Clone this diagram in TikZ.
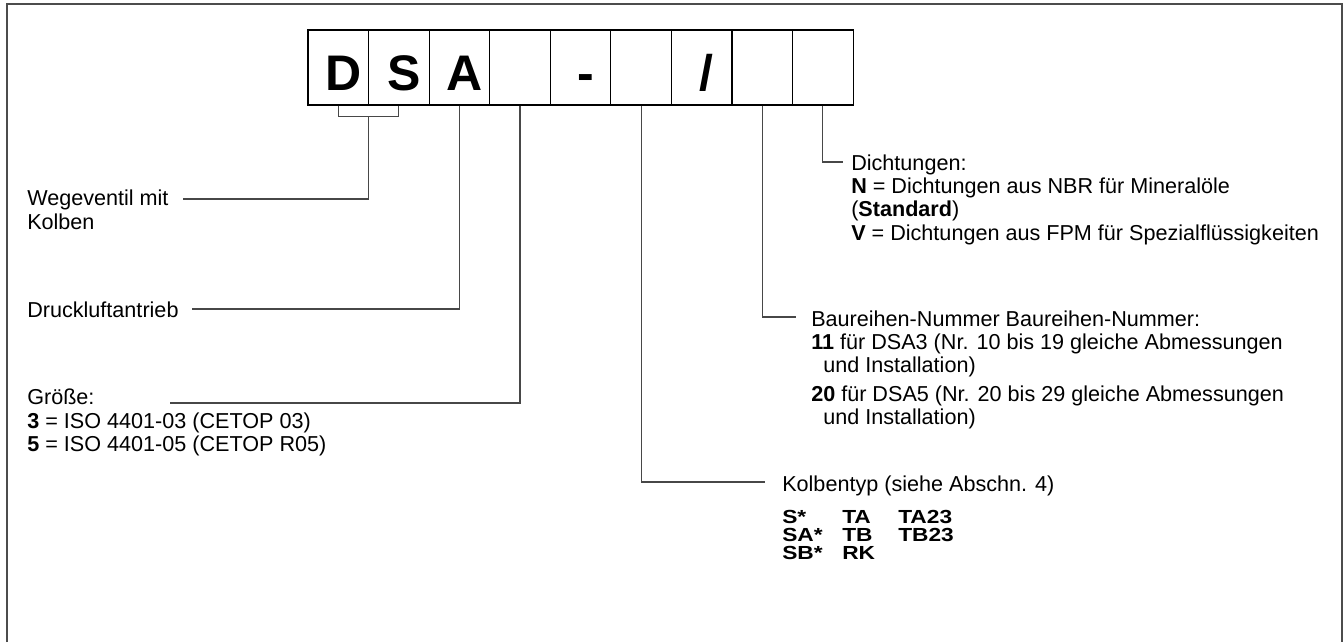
\documentclass[tikz,border=0pt]{standalone}
\usepackage{fontspec}
\usepackage{graphicx}
\setmainfont{Liberation Sans}
\usetikzlibrary{calc}
\begin{document}
\begin{tikzpicture}[x=0.75pt,y=-0.75pt,
  cell/.style={draw=black, line width=0.8pt, minimum width=45.42pt, minimum height=56.25pt, inner sep=0pt},
  big/.style={anchor=base, inner sep=0pt, font=\fontsize{37.5}{40}\selectfont\bfseries},
  conn/.style={draw=black!72, line width=0.85pt},
  lbl/.style={anchor=north west, inner sep=0pt, align=left, font=\fontsize{16.2}{17.5}\selectfont},
  lbl1/.style={anchor=base west, inner sep=0pt, font=\fontsize{16.2}{17.5}\selectfont},
  frame/.style={draw=black!70, line width=1.2pt}
]
\useasboundingbox (0,0) rectangle (1344,642);
\draw[frame] (7,642) -- (7,4) -- (1342,4) -- (1342,642);

% cells
\node[cell] (c1) at (338.3,67.5) {};
\node[cell] (c2) at (398.8,67.5) {};
\node[cell] (c3) at (459.4,67.5) {};
\node[cell] (c4) at (520.0,67.5) {};
\node[cell] (c5) at (580.5,67.5) {};
\node[cell] (c6) at (641.1,67.5) {};
\node[cell] (c7) at (701.7,67.5) {};
\node[cell] (c8) at (762.2,67.5) {};
\node[cell] (c9) at (822.8,67.5) {};

\node[big] (tD) at (343.3,90.5) {D};
\node[big] (tS) at (403.8,90.5) {S};
\node[big] (tA) at (464.4,90.5) {A};
\node[big] (tH) at (585.5,90.5) {-};
\node[big] (tL) at (706.7,90.5) {/};

% labels
\node[lbl] (wege) at (27,189.2) {\strut Wegeventil mit\\Kolben};
\node[lbl1] (druck) at (27,317) {Druckluftantrieb};
\node[lbl] (groesse) at (27,388.2) {\strut Größe:\\\textbf{3} = ISO 4401-03 (CETOP 03)\\\textbf{5} = ISO 4401-05 (CETOP R05)};
\node[lbl1] (kolben) at (782,491) {Kolbentyp (siehe Abschn. 4)};
\node[anchor=base west, inner sep=0pt, font=\fontsize{14.2}{11.5}\selectfont\bfseries] (ktab) at (782,523.5)
  {\scalebox{1.2}[1]{\begin{tabular}[t]{@{}p{37.5pt}@{}p{35pt}@{}l@{}}S* & TA & TA23\\ SA* & TB & TB23\\ SB* & RK & \end{tabular}}};
\node[lbl] (baur) at (811,309.7) {\strut Baureihen-Nummer Baureihen-Nummer:\\\textbf{11} für DSA3 (Nr. 10 bis 19 gleiche Abmessungen\\\hspace*{9pt}und Installation)\\[4pt]\textbf{20} für DSA5 (Nr. 20 bis 29 gleiche Abmessungen\\\hspace*{9pt}und Installation)};
\node[lbl] (dicht) at (851,153.7) {\strut Dichtungen:\\\textbf{N} = Dichtungen aus NBR für Mineralöle\\(\textbf{Standard})\\\textbf{V} = Dichtungen aus FPM für Spezialflüssigkeiten};

% connector ends
\coordinate (wE) at (183,199);
\coordinate (dE) at (192,309);
\coordinate (gE) at (170,403);
\coordinate (kE) at (765,482);
\coordinate (bE) at (796,317);
\coordinate (hE) at (843,162);
\coordinate (bm) at ($(c1.south)!0.5!(c2.south)+(0,11)$);

\draw[conn] (c1.south) -- ++(0,11) -| (c2.south);
\draw[conn] (bm) |- (wE);
\draw[conn] (c3.south) |- (dE);
\draw[conn] (c4.south) |- (gE);
\draw[conn] (c6.south) |- (kE);
\draw[conn] (c8.south) |- (bE);
\draw[conn] (c9.south) |- (hE);
\end{tikzpicture}
\end{document}
